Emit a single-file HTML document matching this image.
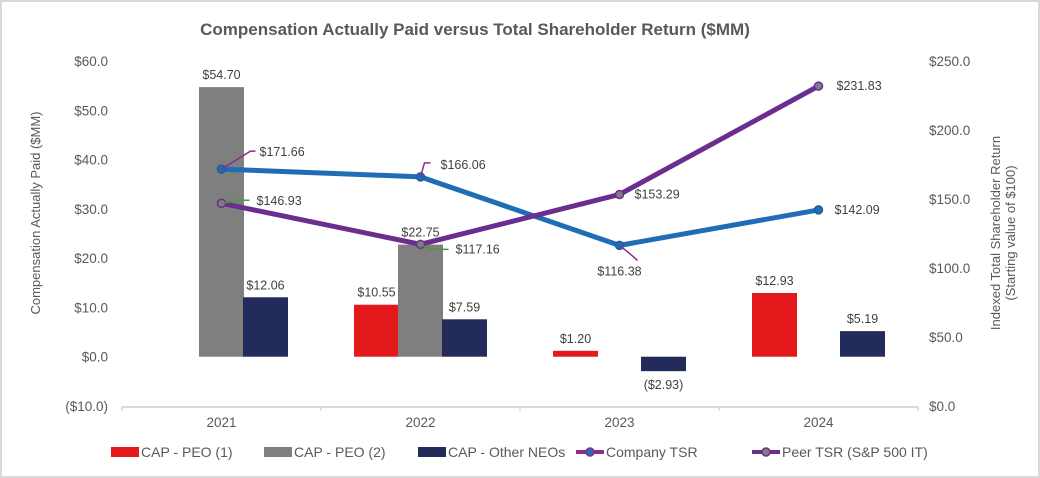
<!DOCTYPE html>
<html><head><meta charset="utf-8"><style>
body{margin:0;background:#fff}
#wrap{position:relative;width:1040px;height:478px;overflow:hidden}
svg text{font-family:"Liberation Sans",Arial,sans-serif}
</style></head><body>
<div id="wrap">
<svg id="chart" width="1040" height="478" xmlns="http://www.w3.org/2000/svg">
<rect x="1" y="1" width="1038" height="476" fill="#fff" stroke="#d9d9d9" stroke-width="2"/>
<text x="475" y="35" text-anchor="middle" font-size="17" font-weight="bold" fill="#595959">Compensation Actually Paid versus Total Shareholder Return ($MM)</text>
<text transform="translate(40,213) rotate(-90)" text-anchor="middle" font-size="13" fill="#595959">Compensation Actually Paid ($MM)</text>
<text transform="translate(1000,233) rotate(-90)" text-anchor="middle" font-size="13" fill="#595959"><tspan x="0" dy="0">Indexed Total Shareholder Return</tspan><tspan x="0" dy="15">(Starting value of $100)</tspan></text>
<g id="g"></g>
</svg>
</div>
<script>
const categories=["2021","2022","2023","2024"];
const peo1=[null,10.55,1.20,12.93];
const peo2=[54.70,22.75,null,null];
const otherNeos=[12.06,7.59,-2.93,5.19];
const companyTsr=[171.66,166.06,116.38,142.09];
const peerTsr=[146.93,117.16,153.29,231.83];
const leftTicks=[-10,0,10,20,30,40,50,60];
const rightTicks=[0,50,100,150,200,250];

const NS="http://www.w3.org/2000/svg";
const g=document.getElementById('g');
const pTop=61,pBottom=406,x0=122,x1=918;
const yL=v=>pBottom-(v+10)/70*(pBottom-pTop);
const yR=v=>pBottom-v/250*(pBottom-pTop);
const bw=(x1-x0)/categories.length;
const xC=i=>x0+bw*(i+0.5);
function el(t,a,p){const e=document.createElementNS(NS,t);for(const k in a)e.setAttribute(k,a[k]);(p||g).appendChild(e);return e;}
function fmt(v){return v<0?"($"+Math.abs(v).toFixed(2)+")":"$"+v.toFixed(2);}

leftTicks.forEach(v=>{const t=el('text',{x:108,y:yL(v)+5,'text-anchor':'end','font-size':13.5,fill:'#595959'});t.textContent=v<0?"($"+Math.abs(v).toFixed(1)+")":"$"+v.toFixed(1);

});
rightTicks.forEach(v=>{const t=el('text',{x:929,y:yR(v)+5,'font-size':13.5,fill:'#595959'});t.textContent="$"+v.toFixed(1);

});
const ax=el('line',{x1:x0,x2:x1,y1:pBottom+1,y2:pBottom+1,stroke:'#d9d9d9','stroke-width':2});


for(let i=0;i<=categories.length;i++){const tk=el('line',{x1:x0+bw*i,x2:x0+bw*i,y1:pBottom,y2:pBottom+5,stroke:'#d9d9d9','stroke-width':1.5});

}
categories.forEach((c,i)=>{const t=el('text',{x:xC(i),y:427,'text-anchor':'middle','font-size':13.5,fill:'#595959'});t.textContent=c;

});

const series=[[peo1,'#e3191c',-44,'bar-cap-peo1'],[peo2,'#7f7f7f',0,'bar-cap-peo2'],[otherNeos,'#232b5a',44,'bar-cap-other-neos']];
series.forEach(([arr,col,off,name])=>{arr.forEach((v,i)=>{if(v==null)return;
const cx=xC(i)+off,ya=yL(v),y0=yL(0);
const r=el('rect',{x:cx-22.5,y:Math.min(ya,y0),width:45,height:Math.abs(ya-y0),fill:col});


const ly=v<0?y0+Math.abs(ya-y0)+18:ya-8;
const t=el('text',{x:cx,y:ly,'text-anchor':'middle','font-size':12.5,fill:'#404040'});t.textContent=fmt(v);

});});

function line(arr,col,mfill,mstroke,name){
const p=el('polyline',{points:arr.map((v,i)=>xC(i)+','+yR(v)).join(' '),fill:'none',stroke:col,'stroke-width':5,'stroke-linejoin':'round'});


arr.forEach((v,i)=>{const c=el('circle',{cx:xC(i),cy:yR(v),r:4,fill:mfill,stroke:mstroke,'stroke-width':1.5});

});}
line(companyTsr,'#1f6db5','#1f6db5','#1f5f9f','company-tsr-line');
line(peerTsr,'#6b2d8f','#7f7f7f','#6b2d8f','peer-tsr-line');

const compLab=[[38,-13,'start','L29,-18 L34,-18'],[20,-8,'start','L4,-14 L10,-14'],[0,30,'middle','L10,8 L18,15'],[16,4,'start',null]];
const peerLab=[[35,2,'start','L18,-3 L28,-3'],[35,9,'start','L10,5 L28,5'],[15,4,'start',null],[18,4,'start',null]];
function labels(arr,lab,lc){arr.forEach((v,i)=>{const x=xC(i),y=yR(v),[dx,dy,anchor,path]=lab[i];
if(path){const pp=el('path',{d:'M'+x+','+y+' '+path.replace(/L(-?[\d.]+),(-?[\d.]+)/g,(m,a,b)=>'L'+(x+ +a)+','+(y+ +b)),fill:'none',stroke:lc,'stroke-width':1.5});

}
const t=el('text',{x:x+dx,y:y+dy,'text-anchor':anchor,'font-size':12.5,fill:'#404040'});t.textContent=fmt(v);

});}
labels(companyTsr,compLab,'#8e2b8e');
labels(peerTsr,peerLab,'#4a9a3a');

const leg=[['rect','#e3191c',null,'CAP - PEO (1)',111],['rect','#7f7f7f',null,'CAP - PEO (2)',264],['rect','#232b5a',null,'CAP - Other NEOs',418],['line','#8e2b8e','#1f6db5','Company TSR',576],['line','#6b2d8f','#7f7f7f','Peer TSR (S&P 500 IT)',752]];
leg.forEach(([k,c,m,txt,x])=>{
if(k=='rect'){const r=el('rect',{x:x,y:447,width:28,height:10,fill:c});

}
else{const l=el('line',{x1:x,x2:x+28,y1:452,y2:452,stroke:c,'stroke-width':4});


const cc=el('circle',{cx:x+14,cy:452,r:4,fill:m,stroke:c,'stroke-width':1.5});

}
const t=el('text',{x:x+30,y:457,'font-size':14,fill:'#595959'});t.textContent=txt;

});
</script>
</body></html>
